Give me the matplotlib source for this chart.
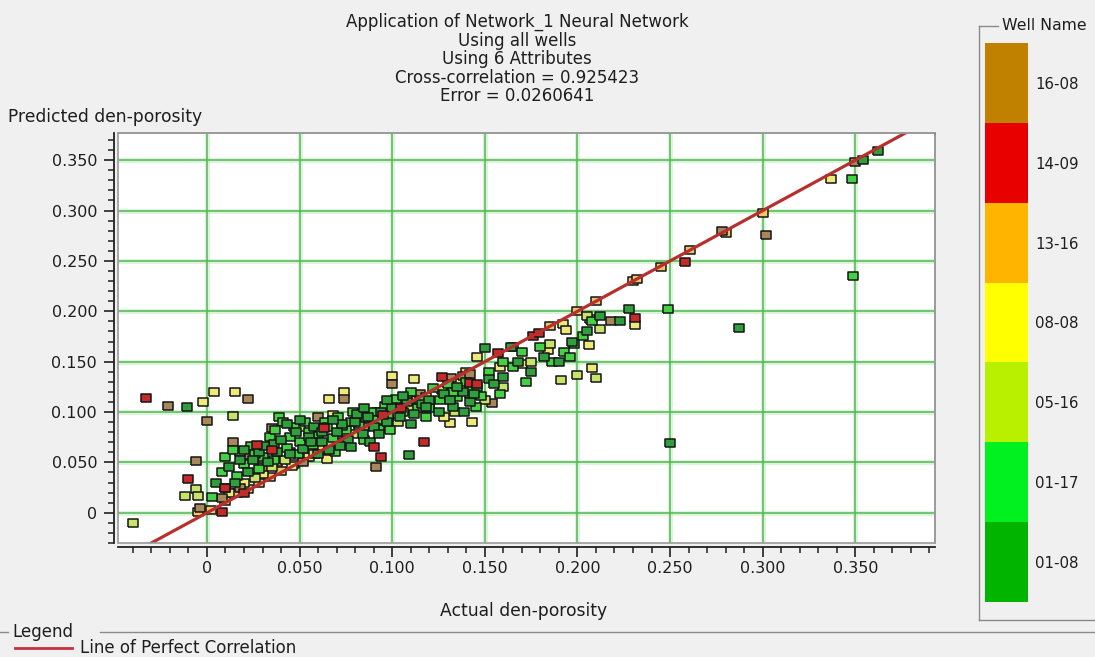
import numpy as np
import matplotlib
matplotlib.use("Agg")
import matplotlib.pyplot as plt
from matplotlib.colors import ListedColormap, BoundaryNorm
from matplotlib.lines import Line2D

plt.rcParams['font.family'] = ['DejaVu Sans']

# ---- data -------------------------------------------------------------
well_names = ["01-08", "01-17", "05-16", "08-08", "13-16", "14-09", "16-08"]
bar_colors = ["#00b400", "#00f020", "#b8f000", "#ffff00", "#ffb400", "#e80000", "#c08000"]
marker_colors = ["#2f9e3c", "#46d046", "#c6e46a", "#eeea7a", "#f2c466", "#c42a2a", "#a8875a"]

x_0108 = [0.362, 0.354, 0.228, 0.223, 0.287, 0.250, -0.011, 0.109, 0.150, 0.152, 0.139, 0.164,
          0.005, 0.012, 0.018, 0.022, 0.028, 0.033, 0.036, 0.040, 0.045, 0.048, 0.052, 0.055,
          0.058, 0.062, 0.066, 0.070, 0.073, 0.076, 0.080, 0.084, 0.087, 0.090, 0.094, 0.097,
          0.100, 0.104, 0.108, 0.112, 0.116, 0.120, 0.125, 0.128, 0.133, 0.138, 0.142, 0.146,
          0.155, 0.160, 0.168, 0.175, 0.182, 0.190, 0.197, 0.205, 0.212, 0.062, 0.038, 0.025,
          0.015, 0.097, 0.088, 0.078,
          0.031, 0.043, 0.056, 0.068, 0.081, 0.093, 0.106, 0.118, 0.131, 0.144, 0.050, 0.072,
          0.085, 0.110, 0.135, 0.020, 0.060]
y_0108 = [0.359, 0.350, 0.202, 0.190, 0.183, 0.069, 0.105, 0.057, 0.164, 0.133, 0.100, 0.165,
          0.030, 0.045, 0.052, 0.040, 0.060, 0.050, 0.068, 0.072, 0.058, 0.080, 0.063, 0.075,
          0.085, 0.070, 0.062, 0.080, 0.088, 0.072, 0.090, 0.078, 0.095, 0.085, 0.100, 0.090,
          0.104, 0.095, 0.110, 0.098, 0.108, 0.112, 0.100, 0.118, 0.105, 0.120, 0.110, 0.125,
          0.128, 0.135, 0.150, 0.140, 0.155, 0.150, 0.170, 0.180, 0.195, 0.080, 0.060, 0.052,
          0.030, 0.112, 0.070, 0.065,
          0.066, 0.088, 0.070, 0.092, 0.098, 0.078, 0.116, 0.105, 0.112, 0.118, 0.092, 0.066,
          0.104, 0.088, 0.125, 0.062, 0.058]

x_0117 = [0.348, 0.349, 0.249, 0.003, 0.148,
          0.008, 0.010, 0.014, 0.020, 0.024, 0.030, 0.034, 0.039, 0.041, 0.043, 0.047, 0.050,
          0.053, 0.057, 0.060, 0.064, 0.068, 0.071, 0.075, 0.079, 0.082, 0.085, 0.089, 0.092,
          0.096, 0.099, 0.102, 0.106, 0.110, 0.114, 0.118, 0.122, 0.126, 0.130, 0.135, 0.140,
          0.145, 0.152, 0.158, 0.165, 0.172, 0.180, 0.186, 0.193, 0.198, 0.203, 0.208, 0.196,
          0.170, 0.160, 0.045, 0.065, 0.028, 0.016,
          0.026, 0.037, 0.049, 0.061, 0.073, 0.086, 0.098, 0.108, 0.120, 0.133, 0.055, 0.078,
          0.093, 0.115, 0.142, 0.036, 0.069]
y_0117 = [0.331, 0.235, 0.202, 0.016, 0.116,
          0.040, 0.055, 0.062, 0.048, 0.066, 0.055, 0.075, 0.095, 0.090, 0.064, 0.085, 0.070,
          0.090, 0.067, 0.078, 0.090, 0.074, 0.095, 0.082, 0.100, 0.088, 0.072, 0.100, 0.092,
          0.106, 0.082, 0.113, 0.100, 0.120, 0.104, 0.095, 0.124, 0.112, 0.128, 0.115, 0.130,
          0.105, 0.140, 0.118, 0.145, 0.130, 0.165, 0.150, 0.160, 0.168, 0.175, 0.190, 0.155,
          0.160, 0.150, 0.075, 0.085, 0.043, 0.037,
          0.058, 0.082, 0.058, 0.084, 0.086, 0.094, 0.095, 0.112, 0.104, 0.120, 0.080, 0.090,
          0.083, 0.112, 0.124, 0.052, 0.060]

x_0516 = [-0.040, -0.006, -0.012, -0.005, 0.014,
          0.010, 0.018, 0.026, 0.035, 0.042, 0.050, 0.058, 0.066, 0.074, 0.080, 0.088, 0.095,
          0.103, 0.110, 0.118, 0.127, 0.134, 0.142, 0.150, 0.160, 0.175, 0.191, 0.200, 0.210,
          0.212, 0.205, 0.185]
y_0516 = [-0.010, 0.024, 0.017, 0.017, 0.096,
          0.025, 0.060, 0.035, 0.045, 0.052, 0.085, 0.058, 0.068, 0.070, 0.078, 0.095, 0.088,
          0.090, 0.105, 0.115, 0.122, 0.100, 0.118, 0.112, 0.125, 0.150, 0.132, 0.137, 0.134,
          0.182, 0.195, 0.168]

x_0808 = [0.395, 0.337, 0.231, -0.002, 0.004, 0.015, 0.066, 0.074, 0.068, 0.100, 0.112, 0.065,
          0.146, 0.131, 0.143, 0.192, 0.207, 0.206, 0.208, 0.184, 0.194,
          0.012, 0.020, 0.030, 0.038, 0.046, 0.055, 0.062, 0.070, 0.082, 0.092, 0.105, 0.120,
          0.135, 0.158, 0.170, 0.128]
y_0808 = [0.380, 0.331, 0.186, 0.110, 0.120, 0.120, 0.113, 0.120, 0.097, 0.136, 0.133, 0.053,
          0.155, 0.089, 0.090, 0.187, 0.192, 0.167, 0.144, 0.162, 0.181,
          0.020, 0.030, 0.038, 0.050, 0.046, 0.055, 0.065, 0.072, 0.082, 0.100, 0.108, 0.105,
          0.130, 0.145, 0.148, 0.095]

x_1316 = [0.300, 0.280, 0.261, 0.245, 0.230, 0.232, -0.005, 0.002,
          0.010, 0.016, 0.022, 0.028, 0.034, 0.040, 0.047, 0.054, 0.061, 0.075, 0.090, 0.110,
          0.140, 0.165, 0.185, 0.200, 0.210]
y_1316 = [0.298, 0.278, 0.261, 0.244, 0.230, 0.232, 0.001, 0.003,
          0.012, 0.020, 0.024, 0.030, 0.036, 0.041, 0.048, 0.055, 0.062, 0.075, 0.090, 0.112,
          0.140, 0.165, 0.185, 0.200, 0.210]

x_1409 = [-0.033, -0.010, 0.008, 0.027, 0.063, 0.117, 0.090, 0.094, 0.127, 0.142, 0.146,
          0.157, 0.176, 0.179, 0.258, 0.231, 0.010, 0.020, 0.095, 0.105, 0.035]
y_1409 = [0.114, 0.034, 0.001, 0.067, 0.084, 0.070, 0.065, 0.055, 0.135, 0.129, 0.128,
          0.159, 0.175, 0.178, 0.249, 0.193, 0.025, 0.020, 0.097, 0.104, 0.062]

x_1608 = [-0.021, 0.022, 0.000, -0.006, -0.004, 0.014, 0.021, 0.035, 0.060, 0.074, 0.100,
          0.091, 0.350, 0.302, 0.278, 0.218, 0.154, 0.132, 0.138, 0.142, -0.051,
          0.008, 0.018, 0.030, 0.045, 0.052, 0.068, 0.085, 0.098, 0.115]
y_1608 = [0.106, 0.113, 0.091, 0.051, 0.005, 0.070, 0.057, 0.084, 0.095, 0.113, 0.128,
          0.045, 0.348, 0.276, 0.280, 0.190, 0.109, 0.134, 0.136, 0.138, -0.031,
          0.015, 0.025, 0.045, 0.060, 0.050, 0.065, 0.085, 0.095, 0.118]

series = {
    "01-08": (x_0108, y_0108),
    "01-17": (x_0117, y_0117),
    "05-16": (x_0516, y_0516),
    "08-08": (x_0808, y_0808),
    "13-16": (x_1316, y_1316),
    "14-09": (x_1409, y_1409),
    "16-08": (x_1608, y_1608),
}
draw_order = ["13-16", "08-08", "16-08", "05-16", "01-17", "01-08", "14-09"]

x_ticks = [0, 0.05, 0.10, 0.15, 0.20, 0.25, 0.30, 0.35]
x_tick_labels = ["0", "0.050", "0.100", "0.150", "0.200", "0.250", "0.300", "0.350"]
y_ticks = [0, 0.05, 0.10, 0.15, 0.20, 0.25, 0.30, 0.35]
y_tick_labels = ["0", "0.050", "0.100", "0.150", "0.200", "0.250", "0.300", "0.350"]
x_range = (-0.048, 0.393)
y_range = (-0.030, 0.377)

title_lines = ["Application of Network_1 Neural Network", "Using all wells",
               "Using 6 Attributes", "Cross-correlation = 0.925423", "Error = 0.0260641"]

# ---- figure -----------------------------------------------------------
W, H = 1095, 657
BG = "#f0f0f0"
TXT = "#1e1e1e"
fig = plt.figure(figsize=(W / 100, H / 100), dpi=100, facecolor=BG)


def fx(px):
    return px / W


def fy(py):
    return 1 - py / H


ax = fig.add_axes([fx(118), fy(543), fx(935) - fx(118), fy(133) - fy(543)])
ax.set_facecolor("white")
ax.set_xlim(*x_range)
ax.set_ylim(*y_range)

# grid with a soft green halo
for v in x_ticks:
    ax.axvline(v, color="#c4ecc4", lw=3.5, alpha=0.6, zorder=0.5)
    ax.axvline(v, color="#52b852", lw=1.1, zorder=0.6)
for v in y_ticks:
    ax.axhline(v, color="#c4ecc4", lw=3.5, alpha=0.6, zorder=0.5)
    ax.axhline(v, color="#52b852", lw=1.1, zorder=0.6)

# rectangular markers, slightly wider than tall
rect_marker = [(-1, -0.8), (1, -0.8), (1, 0.8), (-1, 0.8), (-1, -0.8)]
for name in draw_order:
    xs, ys = series[name]
    c = marker_colors[well_names.index(name)]
    ax.scatter(xs, ys, marker=rect_marker, s=62, facecolor=c, edgecolor="#151515",
               linewidth=1.1, zorder=3)

# line of perfect correlation
lim = np.array([min(x_range[0], y_range[0]), max(x_range[1], y_range[1])])
ax.plot(lim, lim, color="#b8302e", lw=2.3, zorder=4, solid_capstyle="butt")

# frame and axes
for side in ("top", "right"):
    ax.spines[side].set_color("#9a9a9a")
    ax.spines[side].set_linewidth(1.2)
for side in ("left", "bottom"):
    ax.spines[side].set_position(("outward", 3))
    ax.spines[side].set_color("#202020")
    ax.spines[side].set_linewidth(1.3)
ax.add_patch(plt.Rectangle((0, 0), 1, 1, transform=ax.transAxes, fill=False,
                           edgecolor="#9a9a9a", lw=1.2, zorder=5, clip_on=False))

ax.set_xticks(x_ticks)
ax.set_xticklabels(x_tick_labels)
ax.set_yticks(y_ticks)
ax.set_yticklabels(y_tick_labels)
ax.set_xticks(np.arange(-0.04, 0.395, 0.01), minor=True)
ax.set_yticks(np.arange(-0.03, 0.377, 0.01), minor=True)
ax.tick_params(axis="both", which="major", length=7, width=1.2, color="#202020",
               labelsize=11.5, labelcolor=TXT, direction="out")
ax.tick_params(axis="both", which="minor", length=4, width=1.1, color="#202020",
               direction="out")
ax.tick_params(axis="x", pad=3)
ax.tick_params(axis="y", pad=5)

# titles and axis labels
for i, line in enumerate(title_lines):
    fig.text(fx(517), fy(22 + i * 18.6), line, ha="center", va="center",
             fontsize=12, color=TXT)
fig.text(fx(8), fy(117), "Predicted den-porosity", ha="left", va="center",
         fontsize=12.3, color=TXT)
fig.text(fx(524), fy(611), "Actual den-porosity", ha="center", va="center",
         fontsize=12.3, color=TXT)

# discrete well colour bar
cax = fig.add_axes([fx(985), fy(602), fx(1028) - fx(985), fy(43) - fy(602)])
cmap = ListedColormap(bar_colors)
norm = BoundaryNorm(np.arange(len(well_names) + 1) - 0.5, cmap.N)
cb = fig.colorbar(plt.cm.ScalarMappable(norm=norm, cmap=cmap), cax=cax,
                  ticks=np.arange(len(well_names)))
cb.set_ticklabels(well_names)
cb.outline.set_visible(False)
cb.minorticks_off()
cax.tick_params(which="both", length=0, labelsize=10.8, pad=5, labelcolor=TXT)

# group box around the colour bar
fig.add_artist(Line2D([fx(979), fx(979)], [fy(26), fy(620)], color="#8a8a8a", lw=1.0))
fig.add_artist(Line2D([fx(979), fx(1095)], [fy(620), fy(620)], color="#8a8a8a", lw=1.0))
fig.add_artist(Line2D([fx(979), fx(998)], [fy(26), fy(26)], color="#8a8a8a", lw=1.0))
fig.text(fx(1002), fy(26), "Well Name", ha="left", va="center", fontsize=11.3,
         color=TXT)

# legend group
fig.add_artist(Line2D([fx(0), fx(8)], [fy(632), fy(632)], color="#8a8a8a", lw=1.0))
fig.add_artist(Line2D([fx(100), fx(1095)], [fy(632), fy(632)], color="#8a8a8a", lw=1.0))
fig.text(fx(12), fy(632), "Legend", ha="left", va="center", fontsize=12,
         color=TXT)
fig.add_artist(Line2D([fx(15), fx(72)], [fy(648), fy(648)], color="#c8303a", lw=2.0))
fig.text(fx(80), fy(648), "Line of Perfect Correlation", ha="left", va="center",
         fontsize=12, color=TXT)

fig.savefig("out.png", dpi=100, facecolor=BG)
